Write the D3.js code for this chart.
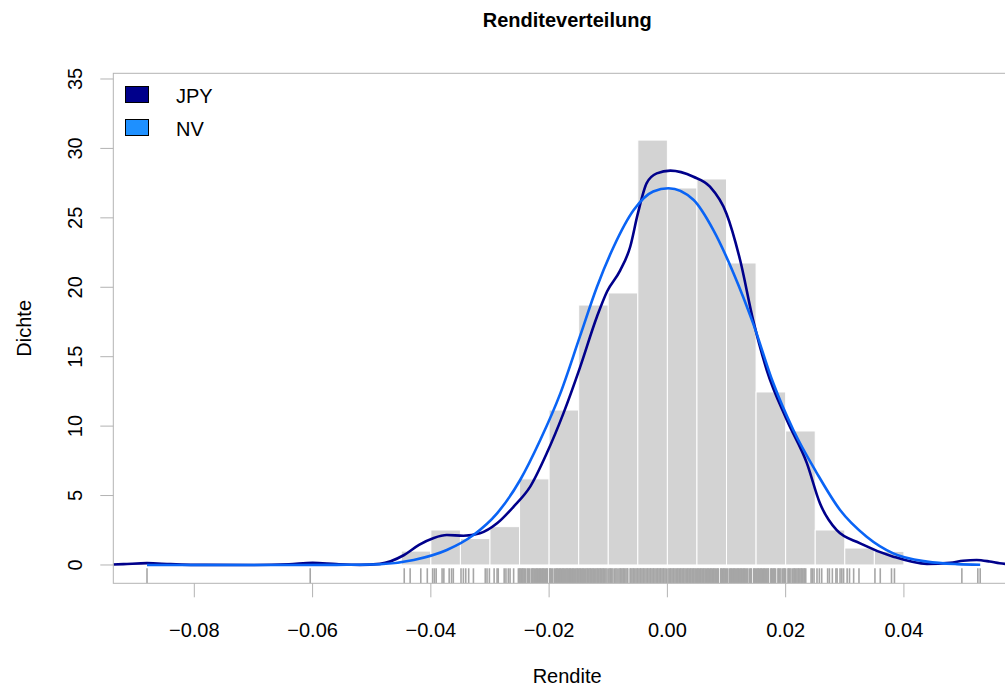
<!DOCTYPE html>
<html>
<head>
<meta charset="utf-8">
<script src="https://cdn.jsdelivr.net/npm/d3@7"></script>
<style>
  body { margin: 0; background: #ffffff; }
  text { font-family: "Liberation Sans", Arial, Helvetica, sans-serif; }
</style>
</head>
<body>
<svg id="chart" width="1005" height="686"></svg>
<script>
// ---- Data -------------------------------------------------------------
// Histogram of daily JPY returns (density scale), bin width 0.005
const histBreaks = [-0.045, -0.040, -0.035, -0.030, -0.025, -0.020, -0.015, -0.010, -0.005,
                    0.000, 0.005, 0.010, 0.015, 0.020, 0.025, 0.030, 0.035, 0.040];
const histDensity = [1.00, 2.52, 1.90, 2.76, 6.20, 11.16, 18.72, 19.59, 30.60,
                     27.15, 27.80, 21.75, 12.46, 9.65, 2.52, 1.22, 0.98];

// Kernel density estimate of the JPY returns
const jpyX = [-0.0950, -0.0920, -0.0880, -0.0840, -0.0800, -0.0700, -0.0640, -0.0600, -0.0560, -0.0520,
              -0.0486, -0.0446, -0.0420, -0.0395, -0.0373, -0.0345, -0.0317, -0.0288, -0.0260, -0.0232,
              -0.0204, -0.0176, -0.0148, -0.0119, -0.0102, -0.0080, -0.0063, -0.0050, -0.0035, -0.0018,
              0.0005, 0.0044, 0.0072, 0.0100, 0.0123, 0.0145, 0.0168, 0.0202, 0.0236, 0.0258,
              0.0286, 0.0326, 0.0382, 0.0439, 0.0478, 0.0500, 0.0523, 0.0545, 0.0562, 0.0600];
const jpyDensity = [0.02, 0.06, 0.13, 0.06, 0.01, 0.00, 0.05, 0.15, 0.06, 0.01,
                    0.08, 0.70, 1.45, 1.95, 2.16, 2.10, 2.28, 3.00, 4.20, 5.64,
                    8.04, 10.90, 14.20, 17.90, 19.70, 21.20, 22.90, 25.30, 27.50, 28.20,
                    28.40, 27.96, 27.24, 25.30, 21.96, 17.64, 14.04, 10.44, 7.32, 4.44,
                    2.52, 1.56, 0.60, 0.08, 0.15, 0.30, 0.36, 0.25, 0.12, 0.02];

// Fitted normal distribution (NV)
const nvX = [-0.0880, -0.0700, -0.0560, -0.0520, -0.0486, -0.0429, -0.0373, -0.0328, -0.0288, -0.0249,
             -0.0215, -0.0181, -0.0148, -0.0119, -0.0091, -0.0057, -0.0024, 0.0002, 0.0044, 0.0078,
             0.0112, 0.0145, 0.0179, 0.0213, 0.0253, 0.0292, 0.0337, 0.0382, 0.0439, 0.0490, 0.0529];
const nvDensity = [0.00, 0.00, 0.01, 0.02, 0.05, 0.36, 1.08, 2.16, 3.72, 6.12,
                   9.00, 12.36, 16.44, 20.04, 22.90, 25.56, 26.90, 27.13, 26.30, 24.10,
                   21.00, 17.40, 13.10, 9.72, 6.60, 3.96, 2.04, 0.84, 0.24, 0.06, 0.02];

// Individual returns for the rug, in basis points
const rugBp = [
  -880, -604, -445, -435, -417, -406, -397, -394, -391, -381, -378, -369, -365, -362,
  -349, -345, -341, -336, -328, -308, -305, -301, -293, -288, -286, -276, -273, -269, -266, -260,
  -252, -250, -249, -247, -245, -244, -242, -240, -237,
  -235, -233, -230, -228, -227, -225, -223, -221, -220,
  -218, -216, -215, -213, -211, -210, -208, -206, -204, -203,
  -199, -198, -196, -194, -191, -189, -187, -186,
  -184, -182, -181, -179, -177, -176, -174, -172, -170, -169,
  -167, -165, -164, -162, -160, -159, -157, -155, -153, -152,
  -150, -148, -147, -145, -143, -142, -140, -138, -136, -135,
  -133, -131, -130, -128, -126, -125, -123, -121, -119, -118,
  -116, -114, -113, -111, -109, -108, -106, -104, -102,
  -99, -97, -96, -94, -92, -89, -87, -85,
  -82, -80, -79, -77, -75, -74, -72, -70, -68, -67,
  -63, -62, -60, -58, -57, -55, -53, -51, -50,
  -48, -46, -45, -43, -41, -40, -38, -36, -34, -33,
  -31, -29, -28, -26, -24, -23, -21, -19, -17, -16,
  -14, -12, -11, -9, -7, -6, -4, -2, 1,
  3, 5, 6, 8, 10, 11, 13, 15, 17, 18,
  20, 22, 23, 25, 27, 28, 30, 32, 34, 35,
  37, 39, 40, 42, 44, 45, 47, 49, 51, 52,
  54, 56, 57, 59, 61, 62, 64, 66, 68, 69,
  71, 73, 74, 76, 78, 79, 81, 83, 85, 86,
  90, 91, 93, 95, 96, 98, 100, 102,
  105, 107, 108, 110, 112, 113, 115, 117, 119, 120,
  122, 124, 125, 127, 129, 130, 132, 134, 136,
  139, 141, 142, 146, 147, 149, 151, 153, 154,
  156, 158, 159, 161, 163, 164, 166, 168, 170, 171,
  175, 176, 178, 180, 181, 183, 187, 188,
  190, 192, 195, 197, 198, 200, 204, 205,
  207, 209, 212, 214, 215, 217, 219, 221, 222,
  224, 226, 227, 229, 231, 232, 234,
  243, 245, 248, 253, 257, 261, 271, 274, 279, 285, 287, 292, 295, 298,
  304, 308, 315, 324, 351, 360, 379, 384, 498, 525, 529
];

const xTicks = [-0.08, -0.06, -0.04, -0.02, 0.00, 0.02, 0.04];
const yTicks = [0, 5, 10, 15, 20, 25, 30, 35];
const seriesNames = ["JPY", "NV"];
const seriesColors = ["#00008b", "#1e90ff"];
const lineColors = ["#00008b", "#0a64f5"];

// ---- Layout -----------------------------------------------------------
const plot = { left: 113.3, right: 1021, top: 73.3, bottom: 583.3 };
const fontSize = 20;

const svg = d3.select("#chart");

const x = d3.scaleLinear().domain([-0.0937, 0.0598]).range([plot.left, plot.right]);
const y = d3.scaleLinear().domain([-1.32, 35.41]).range([plot.bottom, plot.top]);

svg.append("defs").append("clipPath").attr("id", "plotClip")
  .append("rect")
  .attr("x", plot.left).attr("y", plot.top)
  .attr("width", plot.right - plot.left).attr("height", plot.bottom - plot.top);

const g = svg.append("g").attr("clip-path", "url(#plotClip)");

// Histogram bars
const bins = histDensity.map((d, i) => ({ x0: histBreaks[i], x1: histBreaks[i + 1], d }));
g.append("g").selectAll("rect").data(bins).join("rect")
  .attr("x", b => x(b.x0))
  .attr("width", b => x(b.x1) - x(b.x0))
  .attr("y", b => y(b.d))
  .attr("height", b => y(0) - y(b.d))
  .attr("fill", "#d3d3d3")
  .attr("stroke", "#ffffff")
  .attr("stroke-width", 1);

// Rug
g.append("g").selectAll("line").data(rugBp).join("line")
  .attr("x1", v => x(v / 10000))
  .attr("x2", v => x(v / 10000))
  .attr("y1", plot.bottom)
  .attr("y2", plot.bottom - 15)
  .attr("stroke", "#a6a6a6")
  .attr("stroke-width", 1.6);

// Density curves
const line = d3.line()
  .x(p => x(p[0]))
  .y(p => y(p[1]))
  .curve(d3.curveMonotoneX);

const nvPts = nvX.map((v, i) => [v, nvDensity[i]]);
const jpyPts = jpyX.map((v, i) => [v, jpyDensity[i]]);

g.append("path").attr("d", line(jpyPts))
  .attr("fill", "none").attr("stroke", lineColors[0]).attr("stroke-width", 2.6)
  .attr("stroke-linejoin", "round");
g.append("path").attr("d", line(nvPts))
  .attr("fill", "none").attr("stroke", lineColors[1]).attr("stroke-width", 2.6)
  .attr("stroke-linejoin", "round");

// Plot box
svg.append("rect")
  .attr("x", plot.left).attr("y", plot.top)
  .attr("width", plot.right - plot.left).attr("height", plot.bottom - plot.top)
  .attr("fill", "none").attr("stroke", "#b3b3b3").attr("stroke-width", 1);

// X axis
const fmtX = d3.format(".2f");
const xAxis = svg.append("g");
xAxis.selectAll("line").data(xTicks).join("line")
  .attr("x1", d => x(d)).attr("x2", d => x(d))
  .attr("y1", plot.bottom).attr("y2", plot.bottom + 14)
  .attr("stroke", "#b3b3b3");
xAxis.selectAll("text").data(xTicks).join("text")
  .attr("x", d => x(d)).attr("y", 637)
  .attr("text-anchor", "middle")
  .attr("font-size", fontSize)
  .attr("fill", "#000")
  .text(d => fmtX(d));

// Y axis
const yAxis = svg.append("g");
yAxis.selectAll("line").data(yTicks).join("line")
  .attr("x1", plot.left - 13).attr("x2", plot.left)
  .attr("y1", d => y(d)).attr("y2", d => y(d))
  .attr("stroke", "#b3b3b3");
yAxis.selectAll("text").data(yTicks).join("text")
  .attr("transform", d => `translate(82,${y(d)}) rotate(-90)`)
  .attr("text-anchor", "middle")
  .attr("font-size", fontSize)
  .attr("fill", "#000")
  .text(d => d);

// Titles
svg.append("text")
  .attr("x", (plot.left + plot.right) / 2).attr("y", 27)
  .attr("text-anchor", "middle")
  .attr("font-size", fontSize).attr("font-weight", "bold")
  .text("Renditeverteilung");
svg.append("text")
  .attr("x", (plot.left + plot.right) / 2).attr("y", 683)
  .attr("text-anchor", "middle")
  .attr("font-size", fontSize)
  .text("Rendite");
svg.append("text")
  .attr("transform", `translate(31,${(plot.top + plot.bottom) / 2}) rotate(-90)`)
  .attr("text-anchor", "middle")
  .attr("font-size", fontSize)
  .text("Dichte");

// Legend
const legend = svg.append("g");
seriesNames.forEach((name, i) => {
  legend.append("rect")
    .attr("x", 125.5).attr("y", 86.5 + i * 33)
    .attr("width", 23).attr("height", 16)
    .attr("fill", seriesColors[i]).attr("stroke", "#000").attr("stroke-width", 1);
  legend.append("text")
    .attr("x", 176).attr("y", 103 + i * 33)
    .attr("font-size", fontSize)
    .text(name);
});
</script>
</body>
</html>
